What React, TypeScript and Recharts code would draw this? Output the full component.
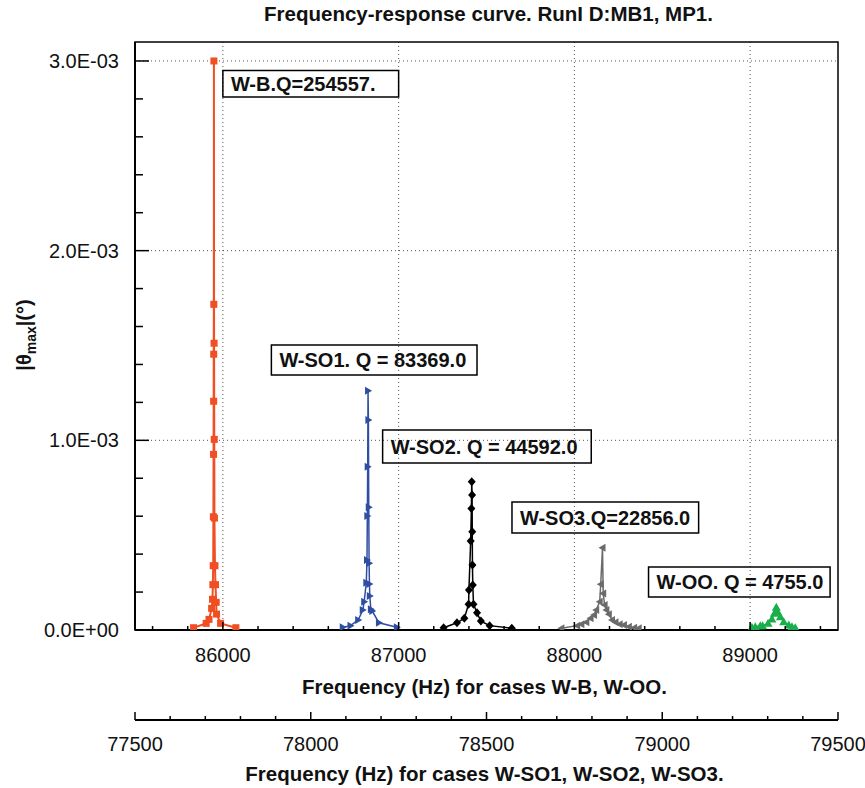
import React from 'react'
import { LineChart, Line, XAxis, YAxis, CartesianGrid, ReferenceArea } from 'recharts'

const FONT = '"Liberation Sans", Arial, Helvetica, sans-serif'

// W-B, main frequency axis (Hz)
const wbFreq = [85833, 85905, 85921, 85936, 85941, 85943, 85945, 85946, 85947, 85947.5, 85948, 85948.5, 85949, 85950, 85951, 85952, 85955, 85958, 85962, 85964, 85987, 86074]
const wbAmp = [0.012e-3, 0.035e-3, 0.056e-3, 0.114e-3, 0.162e-3, 0.239e-3, 0.339e-3, 0.597e-3, 0.926e-3, 1.206e-3, 1.454e-3, 1.717e-3, 3.0e-3, 1.512e-3, 1.005e-3, 0.59e-3, 0.339e-3, 0.239e-3, 0.146e-3, 0.084e-3, 0.035e-3, 0.012e-3]

// W-SO1, secondary frequency axis
const so1Freq = [78091, 78113, 78135, 78148, 78152, 78158, 78160, 78161, 78162, 78163, 78164, 78165, 78166, 78167, 78168, 78171, 78175, 78194, 78245]
const so1Amp = [0.014e-3, 0.023e-3, 0.053e-3, 0.105e-3, 0.149e-3, 0.249e-3, 0.369e-3, 0.601e-3, 0.861e-3, 1.262e-3, 1.107e-3, 0.647e-3, 0.352e-3, 0.243e-3, 0.179e-3, 0.109e-3, 0.1e-3, 0.038e-3, 0.014e-3]

// W-SO2, secondary axis
const so2Freq = [78378, 78416, 78437, 78449, 78450, 78455, 78457, 78458, 78459, 78459.5, 78460, 78461, 78463, 78473, 78484, 78509, 78572]
const so2Amp = [0.012e-3, 0.038e-3, 0.062e-3, 0.136e-3, 0.211e-3, 0.469e-3, 0.641e-3, 0.782e-3, 0.712e-3, 0.518e-3, 0.343e-3, 0.237e-3, 0.136e-3, 0.091e-3, 0.047e-3, 0.023e-3, 0.009e-3]

// W-SO3, secondary axis
const so3Freq = [78713, 78758, 78770, 78784, 78796, 78806, 78812, 78822, 78825, 78830, 78832, 78836, 78841, 78848, 78857, 78867, 78879, 78891, 78905, 78920, 78933]
const so3Amp = [0.009e-3, 0.023e-3, 0.03e-3, 0.041e-3, 0.062e-3, 0.079e-3, 0.105e-3, 0.149e-3, 0.241e-3, 0.434e-3, 0.193e-3, 0.132e-3, 0.105e-3, 0.083e-3, 0.053e-3, 0.041e-3, 0.03e-3, 0.026e-3, 0.017e-3, 0.012e-3, 0.009e-3]

// W-OO, main axis
const ooFreq = [89010, 89029, 89058, 89071, 89102, 89124, 89138, 89149, 89158, 89172, 89191, 89220, 89238, 89257]
const ooAmp = [0.014e-3, 0.017e-3, 0.023e-3, 0.023e-3, 0.035e-3, 0.058e-3, 0.088e-3, 0.12e-3, 0.093e-3, 0.07e-3, 0.044e-3, 0.026e-3, 0.017e-3, 0.012e-3]

// ticks
const mainTicks = [85600, 85800, 86000, 86200, 86400, 86600, 86800, 87000, 87200, 87400, 87600, 87800, 88000, 88200, 88400, 88600, 88800, 89000, 89200, 89400]
const mainMajor = [86000, 87000, 88000, 89000]
const mainLabels = ['86000', '87000', '88000', '89000']
const secTicks = [77500, 77600, 77700, 77800, 77900, 78000, 78100, 78200, 78300, 78400, 78500, 78600, 78700, 78800, 78900, 79000, 79100, 79200, 79300, 79400, 79500]
const secMajor = [77500, 78000, 78500, 79000, 79500]
const secLabels = ['77500', '78000', '78500', '79000', '79500']
const yTicks = [0, 0.2e-3, 0.4e-3, 0.6e-3, 0.8e-3, 1.0e-3, 1.2e-3, 1.4e-3, 1.6e-3, 1.8e-3, 2.0e-3, 2.2e-3, 2.4e-3, 2.6e-3, 2.8e-3, 3.0e-3]
const yMajor = [0, 1.0e-3, 2.0e-3, 3.0e-3]
const yLabels = ['0.0E+00', '1.0E-03', '2.0E-03', '3.0E-03']

const toRows = (f: number[], a: number[]) => f.map((v, i) => ({ f: v, a: a[i] }))

const series = [
  { name: 'W-B', axis: 'main', data: toRows(wbFreq, wbAmp), color: '#f04e23', shape: 'square', width: 2 },
  { name: 'W-SO1', axis: 'sec', data: toRows(so1Freq, so1Amp), color: '#2f4ea2', shape: 'right', width: 1.5 },
  { name: 'W-SO2', axis: 'sec', data: toRows(so2Freq, so2Amp), color: '#000000', shape: 'diamond', width: 1.5 },
  { name: 'W-SO3', axis: 'sec', data: toRows(so3Freq, so3Amp), color: '#6b6b6b', shape: 'left', width: 1.5 },
  { name: 'W-OO', axis: 'main', data: toRows(ooFreq, ooAmp), color: '#1aae4a', shape: 'up', width: 1.5 },
]

// annotation boxes (main axis coordinates)
const notes = [
  { text: 'W-B.Q=254557.', x1: 86000, x2: 87000, y1: 2.81e-3, y2: 2.95e-3 },
  { text: 'W-SO1. Q = 83369.0', x1: 86276, x2: 87446, y1: 1.344e-3, y2: 1.503e-3 },
  { text: 'W-SO2. Q = 44592.0', x1: 86909, x2: 88096, y1: 0.88e-3, y2: 1.054e-3 },
  { text: 'W-SO3.Q=22856.0', x1: 87645, x2: 88707, y1: 0.511e-3, y2: 0.675e-3 },
  { text: 'W-OO. Q = 4755.0', x1: 88422, x2: 89455, y1: 0.174e-3, y2: 0.332e-3 },
]

function Marker({ cx, cy, shape, color }: any) {
  if (cx == null || cy == null) return null
  if (shape === 'square') return <rect x={cx - 3.5} y={cy - 3.5} width={7} height={7} fill={color} />
  let pts = ''
  if (shape === 'right') pts = `${cx + 4},${cy} ${cx - 3},${cy - 4} ${cx - 3},${cy + 4}`
  if (shape === 'left') pts = `${cx - 4},${cy} ${cx + 3},${cy - 4} ${cx + 3},${cy + 4}`
  if (shape === 'diamond') pts = `${cx},${cy - 4.5} ${cx + 4},${cy} ${cx},${cy + 4.5} ${cx - 4},${cy}`
  if (shape === 'up') pts = `${cx},${cy - 4.5} ${cx + 4.5},${cy + 3.5} ${cx - 4.5},${cy + 3.5}`
  return <polygon points={pts} fill={color} />
}

const findMajor = (majors: number[], v: number) => majors.findIndex((m) => Math.abs(m - v) < 1e-9 * Math.max(1, Math.abs(m)))

function makeXTick(majors: number[], labels: string[], margin: number) {
  return (p: any) => {
    const v = p.payload.value
    const i = findMajor(majors, v)
    const axisY = p.y - margin
    return (
      <g>
        <line x1={p.x} x2={p.x} y1={axisY} y2={axisY - (i >= 0 ? 8 : 4)} stroke="#000" strokeWidth={1.5} />
        {i >= 0 && (
          <text x={p.x} y={p.y} dy="0.71em" textAnchor="middle" fontSize={20} fontFamily={FONT} fill="#111">
            {labels[i]}
          </text>
        )}
      </g>
    )
  }
}

function YTick(p: any) {
  const v = p.payload.value
  const i = findMajor(yMajor, v)
  const axisX = p.x + 16
  return (
    <g>
      <line x1={axisX} x2={axisX + (i >= 0 ? 14 : 8)} y1={p.y} y2={p.y} stroke="#000" strokeWidth={1.5} />
      {i >= 0 && (
        <text x={p.x} y={p.y} dy="0.355em" textAnchor="end" fontSize={20} fontFamily={FONT} fill="#111">
          {yLabels[i]}
        </text>
      )}
    </g>
  )
}

function AxisTitle({ viewBox, text, offset }: any) {
  if (!viewBox) return null
  return (
    <text x={viewBox.x + viewBox.width / 2 - 2} y={viewBox.y + viewBox.height - offset} textAnchor="middle" fontSize={20.5} fontWeight="bold" fontFamily={FONT} fill="#111">
      {text}
    </text>
  )
}

function YTitle() {
  return (
    <text transform="translate(31, 335) rotate(-90)" textAnchor="middle" fontSize={20} fontWeight="bold" fontFamily={FONT} fill="#111">
      |θ<tspan dy={5} fontSize={14}>max</tspan>
      <tspan dy={-5}>|(°)</tspan>
    </text>
  )
}

function NoteLabel({ viewBox, text }: any) {
  if (!viewBox) return null
  return (
    <text x={viewBox.x + 8} y={viewBox.y + viewBox.height / 2} dy="0.355em" fontSize={20} fontWeight="bold" fontFamily={FONT} fill="#111">
      {text}
    </text>
  )
}

export default function App() {
  return (
    <div style={{ position: 'relative', width: 865, height: 788, background: '#fff', fontFamily: FONT }}>
      <style>{'body{margin:0}'}</style>
      <div style={{ position: 'absolute', top: 3, left: 135, width: 707, textAlign: 'center', fontSize: 20.5, fontWeight: 'bold', lineHeight: '22px', color: '#111' }}>
        Frequency-response curve. RunI D:MB1, MP1.
      </div>
      <LineChart width={865} height={788} margin={{ top: 42, right: 27, bottom: 0, left: 0 }}>
        <CartesianGrid
          xAxisId="main"
          yAxisId="y"
          stroke="#555"
          strokeDasharray="1 3"
          horizontalValues={[1.0e-3, 2.0e-3, 3.0e-3]}
          verticalValues={mainMajor}
        />
        <XAxis
          xAxisId="main"
          dataKey="f"
          type="number"
          domain={[85500, 89500]}
          allowDataOverflow
          ticks={mainTicks}
          interval={0}
          height={90}
          tickSize={0}
          tickMargin={18}
          tickLine={false}
          axisLine={{ stroke: '#000', strokeWidth: 2 }}
          tick={makeXTick(mainMajor, mainLabels, 18)}
          label={{ content: (p: any) => <AxisTitle viewBox={p.viewBox} text="Frequency (Hz) for cases W-B, W-OO." offset={26} /> }}
        />
        <XAxis
          xAxisId="sec"
          dataKey="f"
          type="number"
          domain={[77500, 79500]}
          allowDataOverflow
          ticks={secTicks}
          interval={0}
          height={68}
          tickSize={0}
          tickMargin={17}
          tickLine={false}
          axisLine={{ stroke: '#000', strokeWidth: 2 }}
          tick={makeXTick(secMajor, secLabels, 17)}
          label={{ content: (p: any) => <AxisTitle viewBox={p.viewBox} text="Frequency (Hz) for cases W-SO1, W-SO2, W-SO3." offset={7} /> }}
        />
        <YAxis
          yAxisId="y"
          type="number"
          domain={[0, 3.1e-3]}
          allowDataOverflow
          ticks={yTicks}
          interval={0}
          width={135}
          tickSize={0}
          tickMargin={16}
          tickLine={false}
          axisLine={{ stroke: '#000', strokeWidth: 2 }}
          tick={YTick}
          label={{ content: () => <YTitle /> }}
        />
        <ReferenceArea xAxisId="main" yAxisId="y" x1={85500} x2={89500} y1={0} y2={3.1e-3} fill="none" stroke="#000" strokeWidth={1.5} />
        {notes.map((n) => (
          <ReferenceArea
            key={n.text}
            xAxisId="main"
            yAxisId="y"
            x1={n.x1}
            x2={n.x2}
            y1={n.y1}
            y2={n.y2}
            fill="none"
            stroke="#000"
            strokeWidth={1.5}
            label={{ content: (p: any) => <NoteLabel viewBox={p.viewBox} text={n.text} /> }}
          />
        ))}
        {series.map((s) => (
          <Line
            key={s.name}
            data={s.data}
            xAxisId={s.axis}
            yAxisId="y"
            dataKey="a"
            type="linear"
            stroke={s.color}
            strokeWidth={s.width}
            isAnimationActive={false}
            dot={(p: any) => <Marker key={p.index} cx={p.cx} cy={p.cy} shape={s.shape} color={s.color} />}
            activeDot={false}
          />
        ))}
      </LineChart>
    </div>
  )
}
